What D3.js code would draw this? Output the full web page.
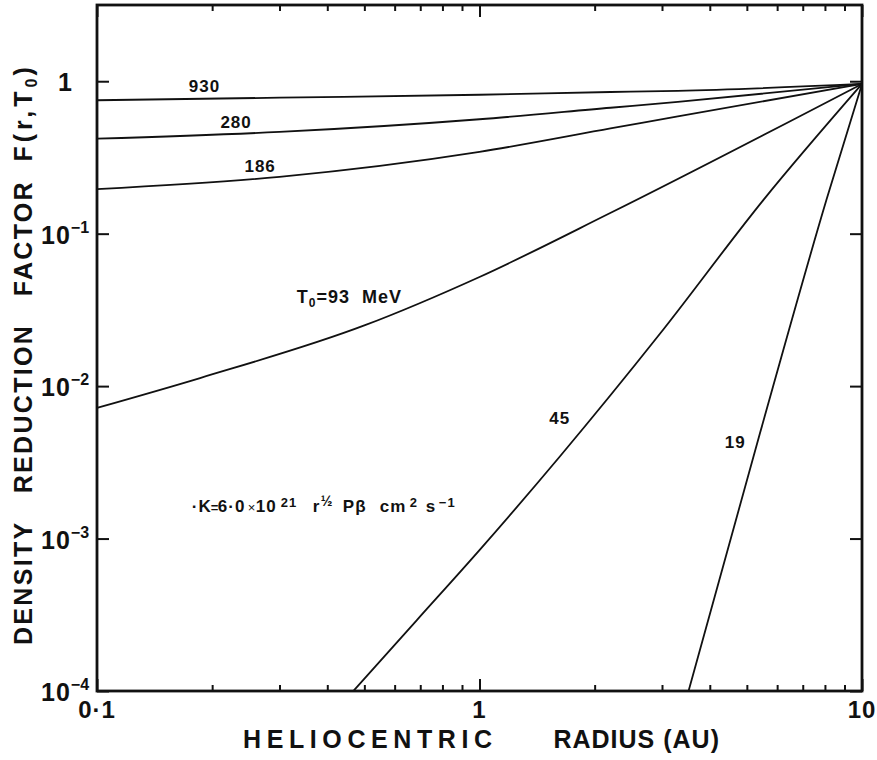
<!DOCTYPE html>
<html>
<head>
<meta charset="utf-8">
<script src="https://cdn.jsdelivr.net/npm/d3@7"></script>
<style>
  body { margin: 0; background: #fff; }
  text { font-family: "Liberation Sans", Arial, sans-serif; font-weight: bold; fill: #111; }
</style>
</head>
<body>
<div id="chart"></div>
<script>

// Data (r in AU, F dimensionless)
const xMajor = [0.1, 1, 10]
const xMajorLabels = ["0·1", "1", "10"]
const xMinor = [0.2, 0.3, 0.4, 0.5, 0.6, 0.7, 0.8, 0.9, 2, 3, 4, 5, 6, 7, 8, 9]
const yMajor = [1, 0.1, 0.01, 0.001, 0.0001]
const yExponents = ["", "1", "2", "3", "4"]

const curve930 = [[0.1, 0.75], [0.3, 0.78], [1, 0.815], [2.2, 0.85], [3.3, 0.865], [10, 0.96]]
const curve280 = [[0.1, 0.42], [0.3, 0.465], [1, 0.563], [2.2, 0.67], [3.3, 0.732], [10, 0.96]]
const curve186 = [[0.1, 0.196], [0.3, 0.236], [1, 0.344], [2.2, 0.49], [3.3, 0.589], [10, 0.96]]
const curve93 = [[0.1, 0.0072], [0.186, 0.0113], [0.5, 0.025], [1, 0.052], [2.19, 0.136], [10, 0.96]]
const curve45 = [[0.468, 0.0001], [0.686, 0.000292], [1, 0.00084], [1.62, 0.00344],
                 [2.97, 0.0222], [5.52, 0.166], [10, 0.96]]
const curve19 = [[3.52, 0.0001], [5.41, 0.0049], [8.07, 0.166], [10, 0.96]]

const curves = [curve930, curve280, curve186, curve93, curve45, curve19]

// Layout
let outerWidth = 877
let outerHeight = 760
let margin = {top: 5, right: 15, bottom: 69, left: 97}
let width = outerWidth - margin.left - margin.right
let height = outerHeight - margin.top - margin.bottom

const svg = d3.select("#chart")
    .append("svg")
    .attr("width", outerWidth)
    .attr("height", outerHeight)

const g = svg.append("g")
    .attr("transform", `translate(${margin.left}, ${margin.top})`)

const x = d3.scaleLog().domain([0.1, 10]).range([0, width])
const y = d3.scaleLog().domain([1e-4, Math.pow(10, 0.5)]).range([height, 0])

// Axes, ticks pointing inward
function styleAxis(sel) {
    sel.select(".domain").remove()
    sel.selectAll("line").attr("stroke", "#111").attr("stroke-width", 2)
    sel.selectAll("text").remove()
}

g.append("g").attr("transform", `translate(0, ${height})`)
    .call(d3.axisBottom(x).tickValues(xMajor).tickSize(-12).tickFormat(""))
    .call(styleAxis)
g.append("g").attr("transform", `translate(0, ${height})`)
    .call(d3.axisBottom(x).tickValues(xMinor).tickSize(-6).tickFormat(""))
    .call(styleAxis)
g.append("g")
    .call(d3.axisTop(x).tickValues(xMajor).tickSize(-12).tickFormat(""))
    .call(styleAxis)
g.append("g")
    .call(d3.axisTop(x).tickValues(xMinor).tickSize(-6).tickFormat(""))
    .call(styleAxis)
g.append("g")
    .call(d3.axisLeft(y).tickValues(yMajor).tickSize(-12).tickFormat(""))
    .call(styleAxis)
g.append("g").attr("transform", `translate(${width}, 0)`)
    .call(d3.axisRight(y).tickValues(yMajor).tickSize(-12).tickFormat(""))
    .call(styleAxis)

// Frame
g.append("rect")
    .attr("width", width)
    .attr("height", height)
    .attr("fill", "none")
    .attr("stroke", "#111")
    .attr("stroke-width", 2.8)

// Curves
const line = d3.line()
    .x(d => x(d[0]))
    .y(d => y(d[1]))
    .curve(d3.curveMonotoneX)

g.selectAll(".curve")
    .data(curves)
    .enter()
    .append("path")
    .attr("class", "curve")
    .attr("d", line)
    .attr("fill", "none")
    .attr("stroke", "#111")
    .attr("stroke-width", 1.8)

// X tick labels
g.selectAll(".xlab")
    .data(xMajor)
    .enter()
    .append("text")
    .attr("x", d => x(d))
    .attr("y", height + 27)
    .attr("text-anchor", "middle")
    .attr("font-size", 24)
    .attr("letter-spacing", 1)
    .text((d, i) => xMajorLabels[i])

// Y tick labels: 1 and 10^-n
yMajor.forEach((v, i) => {
    const t = g.append("text")
        .attr("x", i === 0 ? -25 : -56)
        .attr("y", y(v) + 10)
        .attr("font-size", 25)
        .attr("text-anchor", i === 0 ? "end" : "start")
    if (i === 0) {
        t.text("1")
        return
    }
    t.append("tspan").attr("letter-spacing", 1).text("10")
    t.append("tspan").attr("font-size", 16).attr("dy", -11).text("−" + yExponents[i])
})

// Axis titles
svg.append("text")
    .attr("x", 243)
    .attr("y", 748)
    .attr("font-size", 25)
    .attr("letter-spacing", 5.6)
    .text("HELIOCENTRIC")
svg.append("text")
    .attr("x", 720)
    .attr("y", 748)
    .attr("text-anchor", "end")
    .attr("font-size", 25)
    .attr("letter-spacing", 1)
    .text("RADIUS (AU)")

const ylab = svg.append("text")
    .attr("transform", "translate(32, 645) rotate(-90)")
    .attr("font-size", 25)
    .attr("letter-spacing", 2.3)
    .attr("xml:space", "preserve")
ylab.append("tspan").text("DENSITY   REDUCTION   FACTOR  ")
ylab.append("tspan").attr("letter-spacing", 4).text("F(r,T")
ylab.append("tspan").attr("font-size", 16).attr("dy", 5).attr("letter-spacing", 3).text("0")
ylab.append("tspan").attr("dy", -5).text(")")

// Curve labels
function label(xv, yv, txt, size, anchor) {
    return g.append("text")
        .attr("x", x(xv))
        .attr("y", y(yv))
        .attr("text-anchor", anchor || "middle")
        .attr("font-size", size)
        .attr("letter-spacing", 1)
        .text(txt)
}
label(0.191, 0.847, "930", 17)
label(0.231, 0.492, "280", 17)
label(0.267, 0.253, "186", 17)
label(1.62, 0.00563, "45", 17)
label(4.66, 0.00392, "19", 17)

const t0 = g.append("text")
    .attr("x", x(0.333))
    .attr("y", y(0.035))
    .attr("font-size", 18)
    .attr("letter-spacing", 1)
    .attr("xml:space", "preserve")
t0.append("tspan").text("T")
t0.append("tspan").attr("font-size", 12).attr("dy", 4).text("0")
t0.append("tspan").attr("dy", -4).text("=93  MeV")

// Diffusion coefficient formula, pieces placed as in the figure
const k0 = x(0.177)
const k = g.append("text")
    .attr("y", y(0.00149))
    .attr("font-size", 17)
const kParts = [
    [0, "·K", 17, 0], [19, "=", 13, 0], [26, "6·0", 17, 0], [56, "×", 13, 0], [64, "10", 17, 0],
    [89, "21", 13, -5], [121, "r", 17, 0], [129, "½", 14, -6], [151, "Pβ", 17, 0],
    [188, "cm", 17, 0], [218, "2", 13, -5], [234, "s", 17, 0], [247, "−1", 13, -5]
]
let prevDy = 0
kParts.forEach(p => {
    k.append("tspan")
        .attr("x", k0 + p[0])
        .attr("dy", p[3] - prevDy)
        .attr("font-size", p[2])
        .attr("font-weight", p[1] === "×" ? "normal" : "bold")
        .attr("letter-spacing", 1)
        .text(p[1])
    prevDy = p[3]
})

</script>
</body>
</html>
